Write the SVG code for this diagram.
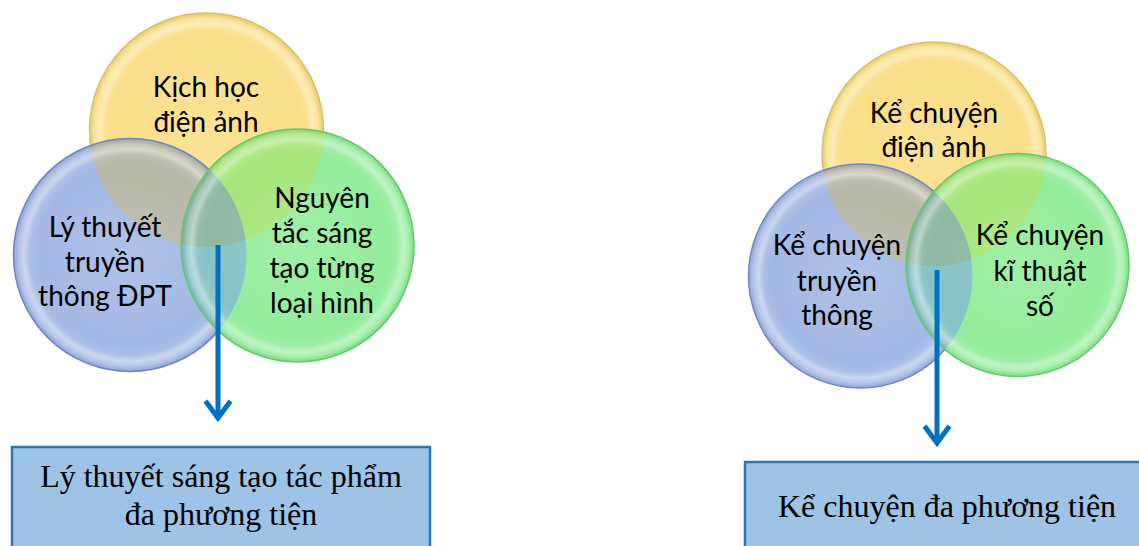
<svg xmlns="http://www.w3.org/2000/svg" width="1139" height="546" viewBox="0 0 1139 546">
<style>
.t{font-family:Lato,"Liberation Sans",Arial,sans-serif;font-size:28px;fill:#000;text-anchor:middle}
.bt{font-family:"Liberation Serif","Times New Roman",serif;font-size:32px;fill:#000;text-anchor:middle}
.box{fill:#9DC3E6;stroke:#2E75B6;stroke-width:2.5}
.gloss{fill:url(#gloss)}
.by{fill:none;stroke:#D9C263;stroke-width:1.5}
.bb{fill:none;stroke:#6F86C6;stroke-width:1.5}
.bg{fill:none;stroke:#5FCC6A;stroke-width:1.5}
.fy{fill:#FADF88}
.fb{fill:#A4B9E5}
.fg{fill:#94ED9B}
.oby{fill:#B8B9A9}
.ogy{fill:#A6E67A}
.ogb{fill:#86C3C6}
.ogby{fill:#8DB8A3}
.conn{stroke:#0070C0;stroke-width:5;fill:none}
</style>
<defs>
<radialGradient id="gloss" cx="0.5" cy="0.5" r="0.5">
<stop offset="0" stop-color="#fff" stop-opacity="0.12"/>
<stop offset="0.8" stop-color="#fff" stop-opacity="0"/>
<stop offset="0.86" stop-color="#fff" stop-opacity="0.08"/>
<stop offset="0.91" stop-color="#fff" stop-opacity="0.42"/>
<stop offset="0.96" stop-color="#fff" stop-opacity="0.15"/>
<stop offset="1" stop-color="#000" stop-opacity="0.06"/>
</radialGradient>
<marker id="arr" markerUnits="userSpaceOnUse" viewBox="-30 -20 40 40" markerWidth="40" markerHeight="40" refX="0" refY="0" orient="auto" overflow="visible">
<path d="M-17,-12.5 L0,0 L-17,12.5" fill="none" stroke="#0070C0" stroke-width="5"/>
</marker>
<clipPath id="cY1"><circle cx="206.5" cy="130" r="117"/></clipPath>
<clipPath id="cB1"><circle cx="130" cy="255" r="116.5"/></clipPath>
<clipPath id="cY2"><circle cx="934" cy="154" r="112"/></clipPath>
<clipPath id="cB2"><circle cx="860.5" cy="276" r="112"/></clipPath>
</defs>

<!-- Left diagram -->
<g id="node-kich-hoc">
<circle class="fy" cx="206.5" cy="130" r="117"/>
<circle class="gloss" cx="206.5" cy="130" r="117"/>
<circle class="by" cx="206.5" cy="130" r="117"/>
<text class="t" x="206" y="97">Kịch học</text>
<text class="t" x="206" y="132">điện ảnh</text>
</g>
<g id="node-ly-thuyet">
<circle class="fb" cx="130" cy="255" r="116.5"/>
<circle class="oby" cx="130" cy="255" r="116.5" clip-path="url(#cY1)"/>
<circle class="gloss" cx="130" cy="255" r="116.5"/>
<circle class="bb" cx="130" cy="255" r="116.5"/>
<text class="t" x="105" y="237">Lý thuyết</text>
<text class="t" x="105" y="272">truyền</text>
<text class="t" x="105" y="306">thông ĐPT</text>
</g>
<g id="node-nguyen-tac">
<circle class="fg" cx="297.5" cy="245.5" r="116.5"/>
<circle class="ogy" cx="297.5" cy="245.5" r="116.5" clip-path="url(#cY1)"/>
<circle class="ogb" cx="297.5" cy="245.5" r="116.5" clip-path="url(#cB1)"/>
<g clip-path="url(#cY1)"><circle class="ogby" cx="297.5" cy="245.5" r="116.5" clip-path="url(#cB1)"/></g>
<circle class="gloss" cx="297.5" cy="245.5" r="116.5"/>
<circle class="bg" cx="297.5" cy="245.5" r="116.5"/>
<text class="t" x="322" y="208">Nguyên</text>
<text class="t" x="322" y="243">tắc sáng</text>
<text class="t" x="322" y="278">tạo từng</text>
<text class="t" x="322" y="313">loại hình</text>
</g>
<g id="node-ly-thuyet-sang-tao">
<rect class="box" x="12" y="447" width="418" height="120"/>
<text class="bt" x="221" y="487">Lý thuyết sáng tạo tác phẩm</text>
<text class="bt" x="221" y="525">đa phương tiện</text>
</g>

<!-- Right diagram -->
<g id="node-ke-chuyen-dien-anh">
<circle class="fy" cx="934" cy="154" r="112"/>
<circle class="gloss" cx="934" cy="154" r="112"/>
<circle class="by" cx="934" cy="154" r="112"/>
<text class="t" x="934" y="123">Kể chuyện</text>
<text class="t" x="934" y="157">điện ảnh</text>
</g>
<g id="node-ke-chuyen-truyen-thong">
<circle class="fb" cx="860.5" cy="276" r="112"/>
<circle class="oby" cx="860.5" cy="276" r="112" clip-path="url(#cY2)"/>
<circle class="gloss" cx="860.5" cy="276" r="112"/>
<circle class="bb" cx="860.5" cy="276" r="112"/>
<text class="t" x="837" y="255">Kể chuyện</text>
<text class="t" x="837" y="291">truyền</text>
<text class="t" x="837" y="325">thông</text>
</g>
<g id="node-ke-chuyen-ki-thuat-so">
<circle class="fg" cx="1017.5" cy="265" r="111.5"/>
<circle class="ogy" cx="1017.5" cy="265" r="111.5" clip-path="url(#cY2)"/>
<circle class="ogb" cx="1017.5" cy="265" r="111.5" clip-path="url(#cB2)"/>
<g clip-path="url(#cY2)"><circle class="ogby" cx="1017.5" cy="265" r="111.5" clip-path="url(#cB2)"/></g>
<circle class="gloss" cx="1017.5" cy="265" r="111.5"/>
<circle class="bg" cx="1017.5" cy="265" r="111.5"/>
<text class="t" x="1040" y="245">Kể chuyện</text>
<text class="t" x="1040" y="281">kĩ thuật</text>
<text class="t" x="1040" y="316">số</text>
</g>
<g id="node-ke-chuyen-da-phuong-tien">
<rect class="box" x="745" y="462" width="404" height="100"/>
<text class="bt" x="947" y="517">Kể chuyện đa phương tiện</text>
</g>

<g id="connectors">
<line class="conn" x1="218" y1="245" x2="218" y2="418" marker-end="url(#arr)"/>
<line class="conn" x1="937" y1="270" x2="937" y2="443" marker-end="url(#arr)"/>
</g>
</svg>
